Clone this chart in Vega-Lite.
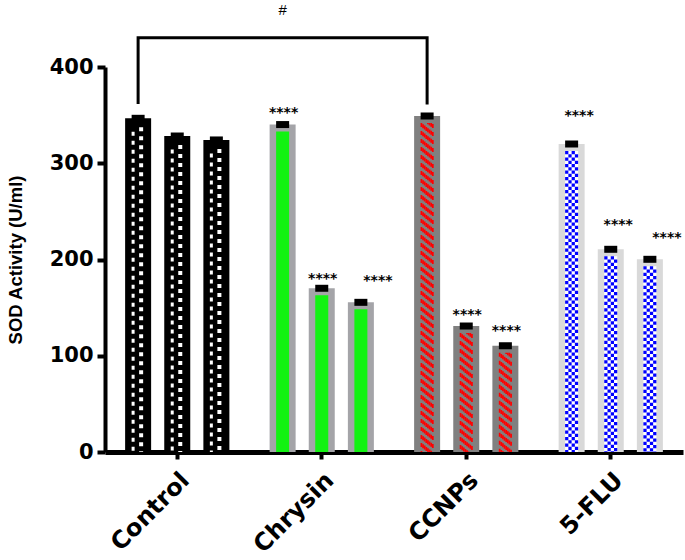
{
  "$schema": "https://vega.github.io/schema/vega-lite/v6.json",
  "autosize": {"type": "none"},
  "padding": {"left": 105, "top": 67, "right": 2, "bottom": 108},
  "width": 578,
  "height": 385,
  "background": "white",
  "config": {"view": {"stroke": null}, "axis": {"grid": false}},
  "datasets": {
    "bars": [
      {"group": "Control", "sub": 1, "value": 346.7},
      {"group": "Control", "sub": 2, "value": 328.3},
      {"group": "Control", "sub": 3, "value": 324.2},
      {"group": "Chrysin", "sub": 1, "value": 340.2},
      {"group": "Chrysin", "sub": 2, "value": 170.1},
      {"group": "Chrysin", "sub": 3, "value": 155.5},
      {"group": "CCNPs", "sub": 1, "value": 349.1},
      {"group": "CCNPs", "sub": 2, "value": 130.9},
      {"group": "CCNPs", "sub": 3, "value": 110.4},
      {"group": "5-FLU", "sub": 1, "value": 320.0},
      {"group": "5-FLU", "sub": 2, "value": 210.6},
      {"group": "5-FLU", "sub": 3, "value": 200.2}
    ],
    "sig": [
      {"group": "Chrysin", "sub": 1, "value": 355.3, "label": "****"},
      {"group": "Chrysin", "sub": 2, "value": 182.9, "label": "****"},
      {"group": "Chrysin", "sub": 3, "value": 180.8, "label": "****"},
      {"group": "CCNPs", "sub": 2, "value": 145.8, "label": "****"},
      {"group": "CCNPs", "sub": 3, "value": 128.8, "label": "****"},
      {"group": "5-FLU", "sub": 1, "value": 352.5, "label": "****"},
      {"group": "5-FLU", "sub": 2, "value": 239.2, "label": "****"},
      {"group": "5-FLU", "sub": 3, "value": 225.5, "label": "****"}
    ],
    "bracket": [
      {"group": "Control", "sub": 1, "value": 361.5, "ord": 1},
      {"group": "Control", "sub": 1, "value": 430.5, "ord": 2},
      {"group": "CCNPs", "sub": 1, "value": 430.5, "ord": 3},
      {"group": "CCNPs", "sub": 1, "value": 361.0, "ord": 4}
    ],
    "hash": [
      {"group": "Chrysin", "sub": 1, "value": 459, "label": "#"}
    ]
  },
  "encoding": {
    "x": {
      "field": "group", "type": "nominal",
      "sort": ["Control", "Chrysin", "CCNPs", "5-FLU"],
      "scale": {"paddingInner": 0, "paddingOuter": 0},
      "axis": {
        "title": null, "labelAngle": -45, "labelAlign": "right", "labelBaseline": "top",
        "labelFont": "DejaVu Sans", "labelFontWeight": "bold", "labelFontSize": 24, "labelColor": "black",
        "domainWidth": 5, "domainColor": "black", "tickWidth": 4, "tickSize": 7, "tickColor": "black",
        "labelPadding": 9, "labelDx": 3
      }
    },
    "xOffset": {"field": "sub", "type": "ordinal", "scale": {"domain": [1, 2, 3], "paddingInner": 0.333, "paddingOuter": 0.513}},
    "y": {
      "field": "value", "type": "quantitative",
      "scale": {"domain": [0, 400], "nice": false},
      "axis": {
        "title": "SOD Activity (U/ml)", "values": [0, 100, 200, 300, 400],
        "domainWidth": 4, "domainColor": "black", "tickWidth": 4, "tickSize": 8, "tickColor": "black",
        "labelPadding": 4, "labelFont": "DejaVu Sans", "labelFontWeight": "bold", "labelFontSize": 21, "labelColor": "black",
        "titleFont": "Liberation Sans", "titleFontSize": 18.5, "titleFontWeight": "bold", "titleColor": "black",
        "titleX": -90, "titleY": 192.5, "titleAngle": -90, "titleAlign": "center", "titleBaseline": "middle"
      }
    }
  },
  "resolve": {"scale": {"color": "independent", "xOffset": "independent"}},
  "layer": [
    {
      "data": {"name": "bars"},
      "mark": {"type": "bar", "width": 26},
      "encoding": {
        "color": {"field": "group", "type": "nominal", "legend": null,
          "scale": {"domain": ["Control", "Chrysin", "CCNPs", "5-FLU"], "range": ["#000000", "#a4a4a8", "#808080", "#d9d9d9"]}}
      }
    },
    {
      "data": {"name": "bars"},
      "mark": {"type": "rule", "strokeWidth": 13, "yOffset": 7},
      "encoding": {
        "y2": {"datum": 0},
        "color": {"field": "group", "type": "nominal", "legend": null,
          "scale": {"domain": ["Control", "Chrysin", "CCNPs", "5-FLU"], "range": ["#000000", "#12f212", "#808080", "#ffffff"]}}
      }
    },
    {
      "data": {"name": "bars"},
      "transform": [{"filter": "datum.group === 'Control'"}],
      "mark": {"type": "rule", "strokeWidth": 4, "yOffset": 9, "color": "white", "strokeDash": [4, 5]},
      "encoding": {
        "y2": {"datum": 0},
        "xOffset": {"field": "sub", "type": "ordinal", "scale": {"domain": [1, 2, 3], "paddingInner": 0.333, "paddingOuter": 0.513, "align": 0.575}}
      }
    },
    {
      "data": {"name": "bars"},
      "transform": [{"filter": "datum.group === 'Control'"}],
      "mark": {"type": "rule", "strokeWidth": 3, "yOffset": 9, "color": "white", "strokeDash": [4, 5], "strokeDashOffset": 4.5},
      "encoding": {
        "y2": {"datum": 0},
        "xOffset": {"field": "sub", "type": "ordinal", "scale": {"domain": [1, 2, 3], "paddingInner": 0.333, "paddingOuter": 0.513, "align": 0.375}}
      }
    },
    {
      "data": {"name": "bars"},
      "transform": [{"filter": "datum.group === 'CCNPs'"}],
      "mark": {"type": "rule", "strokeWidth": 1.75, "yOffset": 7, "color": "#ff0000", "strokeDash": [4, 4], "strokeDashOffset": 0},
      "encoding": {"y2": {"datum": 0}, "xOffset": {"field": "sub", "type": "ordinal", "scale": {"domain": [1, 2, 3], "paddingInner": 0.333, "paddingOuter": 0.513, "align": 0.3583}}}
    },
    {
      "data": {"name": "bars"},
      "transform": [{"filter": "datum.group === 'CCNPs'"}],
      "mark": {"type": "rule", "strokeWidth": 1.75, "yOffset": 7, "color": "#ff0000", "strokeDash": [4, 4], "strokeDashOffset": 6.7},
      "encoding": {"y2": {"datum": 0}, "xOffset": {"field": "sub", "type": "ordinal", "scale": {"domain": [1, 2, 3], "paddingInner": 0.333, "paddingOuter": 0.513, "align": 0.3988}}}
    },
    {
      "data": {"name": "bars"},
      "transform": [{"filter": "datum.group === 'CCNPs'"}],
      "mark": {"type": "rule", "strokeWidth": 1.75, "yOffset": 7, "color": "#ff0000", "strokeDash": [4, 4], "strokeDashOffset": 5.4},
      "encoding": {"y2": {"datum": 0}, "xOffset": {"field": "sub", "type": "ordinal", "scale": {"domain": [1, 2, 3], "paddingInner": 0.333, "paddingOuter": 0.513, "align": 0.4393}}}
    },
    {
      "data": {"name": "bars"},
      "transform": [{"filter": "datum.group === 'CCNPs'"}],
      "mark": {"type": "rule", "strokeWidth": 1.75, "yOffset": 7, "color": "#ff0000", "strokeDash": [4, 4], "strokeDashOffset": 4.1},
      "encoding": {"y2": {"datum": 0}, "xOffset": {"field": "sub", "type": "ordinal", "scale": {"domain": [1, 2, 3], "paddingInner": 0.333, "paddingOuter": 0.513, "align": 0.4798}}}
    },
    {
      "data": {"name": "bars"},
      "transform": [{"filter": "datum.group === 'CCNPs'"}],
      "mark": {"type": "rule", "strokeWidth": 1.75, "yOffset": 7, "color": "#ff0000", "strokeDash": [4, 4], "strokeDashOffset": 2.8},
      "encoding": {"y2": {"datum": 0}, "xOffset": {"field": "sub", "type": "ordinal", "scale": {"domain": [1, 2, 3], "paddingInner": 0.333, "paddingOuter": 0.513, "align": 0.5202}}}
    },
    {
      "data": {"name": "bars"},
      "transform": [{"filter": "datum.group === 'CCNPs'"}],
      "mark": {"type": "rule", "strokeWidth": 1.75, "yOffset": 7, "color": "#ff0000", "strokeDash": [4, 4], "strokeDashOffset": 1.5},
      "encoding": {"y2": {"datum": 0}, "xOffset": {"field": "sub", "type": "ordinal", "scale": {"domain": [1, 2, 3], "paddingInner": 0.333, "paddingOuter": 0.513, "align": 0.5607}}}
    },
    {
      "data": {"name": "bars"},
      "transform": [{"filter": "datum.group === 'CCNPs'"}],
      "mark": {"type": "rule", "strokeWidth": 1.75, "yOffset": 7, "color": "#ff0000", "strokeDash": [4, 4], "strokeDashOffset": 0.2},
      "encoding": {"y2": {"datum": 0}, "xOffset": {"field": "sub", "type": "ordinal", "scale": {"domain": [1, 2, 3], "paddingInner": 0.333, "paddingOuter": 0.513, "align": 0.6012}}}
    },
    {
      "data": {"name": "bars"},
      "transform": [{"filter": "datum.group === 'CCNPs'"}],
      "mark": {"type": "rule", "strokeWidth": 1.75, "yOffset": 7, "color": "#ff0000", "strokeDash": [4, 4], "strokeDashOffset": 6.9},
      "encoding": {"y2": {"datum": 0}, "xOffset": {"field": "sub", "type": "ordinal", "scale": {"domain": [1, 2, 3], "paddingInner": 0.333, "paddingOuter": 0.513, "align": 0.6417}}}
    },
    {
      "data": {"name": "bars"},
      "transform": [{"filter": "datum.group === '5-FLU'"}],
      "mark": {"type": "rule", "strokeWidth": 3.25, "yOffset": 7, "color": "#0000ff", "strokeDash": [3.25, 3.25], "strokeDashOffset": 0},
      "encoding": {"y2": {"datum": 0}, "xOffset": {"field": "sub", "type": "ordinal", "scale": {"domain": [1, 2, 3], "paddingInner": 0.333, "paddingOuter": 0.513, "align": 0.3786}}}
    },
    {
      "data": {"name": "bars"},
      "transform": [{"filter": "datum.group === '5-FLU'"}],
      "mark": {"type": "rule", "strokeWidth": 3.25, "yOffset": 7, "color": "#0000ff", "strokeDash": [3.25, 3.25], "strokeDashOffset": 3.25},
      "encoding": {"y2": {"datum": 0}, "xOffset": {"field": "sub", "type": "ordinal", "scale": {"domain": [1, 2, 3], "paddingInner": 0.333, "paddingOuter": 0.513, "align": 0.4595}}}
    },
    {
      "data": {"name": "bars"},
      "transform": [{"filter": "datum.group === '5-FLU'"}],
      "mark": {"type": "rule", "strokeWidth": 3.25, "yOffset": 7, "color": "#0000ff", "strokeDash": [3.25, 3.25], "strokeDashOffset": 0},
      "encoding": {"y2": {"datum": 0}, "xOffset": {"field": "sub", "type": "ordinal", "scale": {"domain": [1, 2, 3], "paddingInner": 0.333, "paddingOuter": 0.513, "align": 0.5405}}}
    },
    {
      "data": {"name": "bars"},
      "transform": [{"filter": "datum.group === '5-FLU'"}],
      "mark": {"type": "rule", "strokeWidth": 3.25, "yOffset": 7, "color": "#0000ff", "strokeDash": [3.25, 3.25], "strokeDashOffset": 3.25},
      "encoding": {"y2": {"datum": 0}, "xOffset": {"field": "sub", "type": "ordinal", "scale": {"domain": [1, 2, 3], "paddingInner": 0.333, "paddingOuter": 0.513, "align": 0.6214}}}
    },
    {
      "data": {"name": "bars"},
      "mark": {"type": "tick", "thickness": 7, "size": 13, "color": "black", "opacity": 1}
    },
    {
      "data": {"name": "sig"},
      "transform": [{"filter": "(datum.group === 'Chrysin' && datum.sub < 3) || datum.group === 'CCNPs'"}],
      "mark": {"type": "text", "font": "DejaVu Sans", "fontWeight": "bold", "fontSize": 14, "baseline": "middle", "dy": 3, "dx": 1, "color": "black"},
      "encoding": {
        "text": {"field": "label"},
        "xOffset": {"field": "sub", "type": "ordinal", "scale": {"type": "point", "domain": [1, 2, 3], "padding": 0.846}}
      }
    },
    {
      "data": {"name": "sig"},
      "transform": [{"filter": "datum.group === '5-FLU' && datum.sub < 3"}],
      "mark": {"type": "text", "font": "DejaVu Sans", "fontWeight": "bold", "fontSize": 14, "baseline": "middle", "dy": 3, "dx": 7.5, "color": "black"},
      "encoding": {
        "text": {"field": "label"},
        "xOffset": {"field": "sub", "type": "ordinal", "scale": {"type": "point", "domain": [1, 2, 3], "padding": 0.846}}
      }
    },
    {
      "data": {"name": "sig"},
      "transform": [{"filter": "datum.sub === 3 && (datum.group === 'Chrysin' || datum.group === '5-FLU')"}],
      "mark": {"type": "text", "font": "DejaVu Sans", "fontWeight": "bold", "fontSize": 14, "baseline": "middle", "dy": 3, "dx": 17, "color": "black"},
      "encoding": {
        "text": {"field": "label"},
        "xOffset": {"field": "sub", "type": "ordinal", "scale": {"type": "point", "domain": [1, 2, 3], "padding": 0.846}}
      }
    },
    {
      "data": {"name": "bracket"},
      "mark": {"type": "line", "color": "black", "strokeWidth": 3, "strokeCap": "butt", "strokeJoin": "miter"},
      "encoding": {
        "order": {"field": "ord", "type": "quantitative"},
        "xOffset": {"field": "sub", "type": "ordinal", "scale": {"type": "point", "domain": [1, 2, 3], "padding": 0.846}}
      }
    },
    {
      "data": {"name": "hash"},
      "mark": {"type": "text", "font": "Liberation Sans", "fontSize": 15, "baseline": "middle", "color": "black"},
      "encoding": {
        "text": {"field": "label"},
        "xOffset": {"field": "sub", "type": "ordinal", "scale": {"type": "point", "domain": [1, 2, 3], "padding": 0.846}}
      }
    }
  ]
}
